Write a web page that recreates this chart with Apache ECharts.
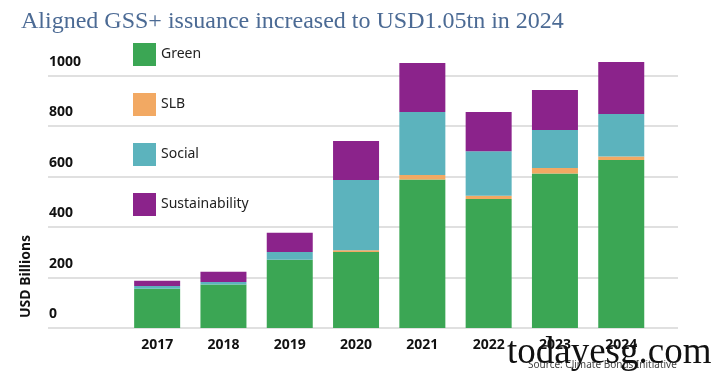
<!DOCTYPE html>
<html>
<head>
<meta charset="utf-8">
<script src="https://cdn.jsdelivr.net/npm/echarts@6/dist/echarts.min.js"></script>
<style>
  html, body { margin: 0; padding: 0; background: #fff; }
  #chart { width: 712px; height: 376px; }
</style>
</head>
<body>
<div id="chart"></div>
<script>
// values in USD billions
var years = ['2017', '2018', '2019', '2020', '2021', '2022', '2023', '2024'];
var green = [156, 172, 271, 301, 589, 511, 612, 666];
var slb = [0, 0, 0, 7, 17, 13, 22, 14];
var social = [10, 10, 30, 279, 250, 177, 151, 168];
var sustainability = [21, 41, 77, 154, 194, 155, 158, 206];
var yTicks = [0, 200, 400, 600, 800, 1000];

var chart = echarts.init(document.getElementById('chart'));

function barSeries(name, data, color) {
    return {
        name: name,
        type: 'bar',
        stack: 'total',
        xAxisIndex: 1,
        yAxisIndex: 1,
        barWidth: 46,
        itemStyle: { color: color },
        data: data
    };
}

// px per unit on the value axis: (328 - 75.7) / 1000
var pxPerUnit = 0.2523;

var option = {
    backgroundColor: '#ffffff',
    animation: false,
    title: {
        text: 'Aligned GSS+ issuance increased to USD1.05tn in 2024',
        left: 16,
        top: 5,
        textStyle: {
            fontFamily: 'Liberation Serif',
            fontSize: 24,
            fontWeight: 'normal',
            color: '#4b6a94'
        }
    },
    legend: {
        orient: 'vertical',
        left: 128,
        top: 38,
        itemWidth: 23,
        itemHeight: 23,
        itemGap: 27,
        icon: 'rect',
        textStyle: { fontFamily: 'Noto Sans', fontSize: 14, color: '#222' },
        data: ['Green', 'SLB', 'Social', 'Sustainability']
    },
    grid: [
        // gridlines span the whole width
        { left: 48, right: 34, top: 75.7, bottom: 48 },
        // bars sit in a narrower band, taller so the 2021/2024 stacks fit
        { left: 124, right: 57.6, top: 75.7 - 100 * pxPerUnit, bottom: 48 }
    ],
    xAxis: [
        { type: 'category', gridIndex: 0, show: false, data: years },
        {
            type: 'category',
            gridIndex: 1,
            data: years,
            axisLine: { show: false },
            axisTick: { show: false },
            axisLabel: {
                margin: 10,
                fontFamily: 'Noto Sans',
                fontWeight: 'bold',
                fontSize: 14,
                color: '#111'
            }
        }
    ],
    yAxis: [
        {
            type: 'value',
            gridIndex: 0,
            min: yTicks[0],
            max: yTicks[yTicks.length - 1],
            interval: 200,
            axisLine: { show: false },
            axisTick: { show: false },
            splitLine: { lineStyle: { color: '#d6d6d6', width: 1.5 } },
            axisLabel: {
                inside: true,
                margin: 1,
                verticalAlign: 'bottom',
                padding: [0, 0, 7, 0],
                formatter: function (v) { return String(v); },
                fontFamily: 'Noto Sans',
                fontWeight: 'bold',
                fontSize: 14,
                color: '#111'
            }
        },
        {
            type: 'value',
            gridIndex: 1,
            min: 0,
            max: 1100,
            show: false
        }
    ],
    series: [
        barSeries('Green', green, '#3ba654'),
        barSeries('SLB', slb, '#f2a963'),
        barSeries('Social', social, '#5cb3bd'),
        barSeries('Sustainability', sustainability, '#8b238b')
    ],
    graphic: [
        {
            type: 'text',
            position: [19, 318],
            rotation: Math.PI / 2,
            style: {
                text: 'USD Billions',
                fontFamily: 'Noto Sans',
                fontWeight: 'bold',
                fontSize: 14,
                fill: '#111'
            }
        },
        {
            type: 'text',
            left: 528,
            top: 360,
            style: {
                text: 'Source: Climate Bonds Initiative',
                fontFamily: 'Noto Sans',
                fontSize: 10,
                fill: '#444'
            }
        },
        {
            type: 'text',
            left: 507,
            top: 335,
            style: {
                text: 'todayesg.com',
                fontFamily: 'Liberation Serif',
                fontSize: 37,
                fill: '#111'
            }
        }
    ]
};

chart.setOption(option);
</script>
</body>
</html>
